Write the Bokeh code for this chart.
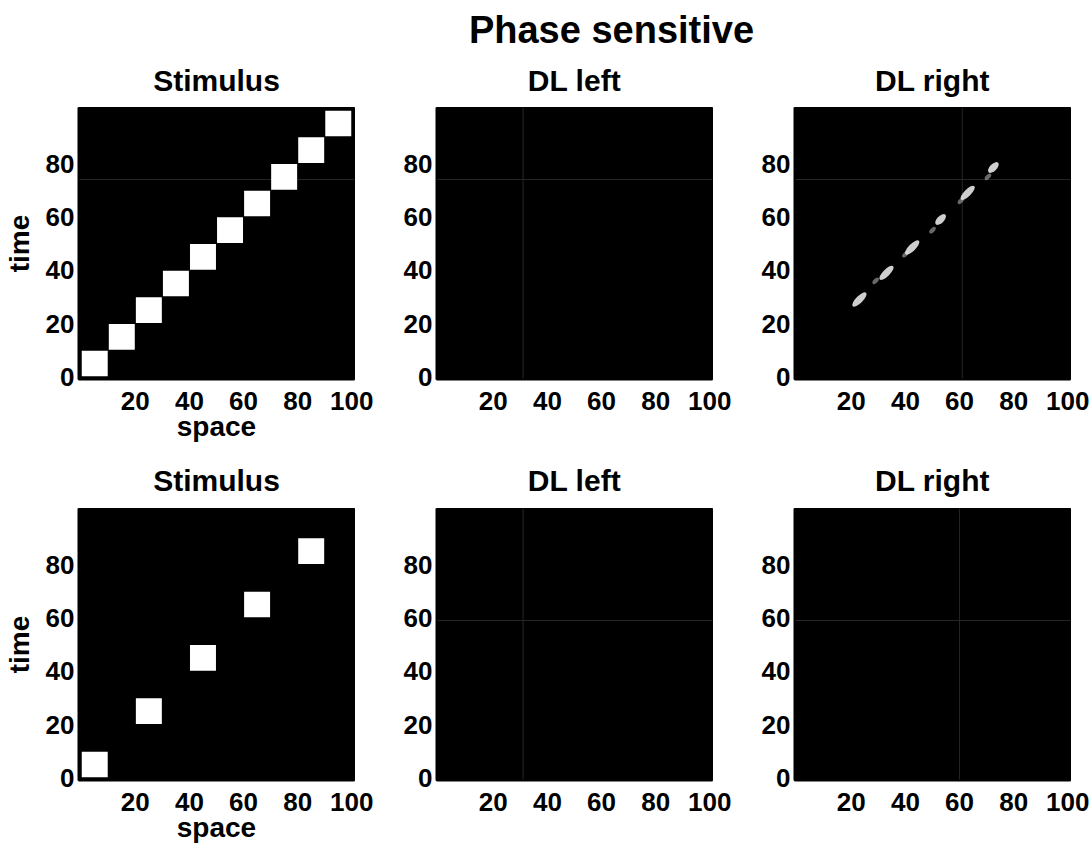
from bokeh.plotting import figure
from bokeh.layouts import column, row
from bokeh.models import Title, FixedTicker, Span, Range1d, Label
from bokeh.embed import file_html
from bokeh.resources import INLINE
import math

FONT = "Liberation Sans"

# ---------------- data ----------------
x_ticks = [20, 40, 60, 80, 100]
y_ticks = [0, 20, 40, 60, 80]

# stimulus squares (centres, in space/time units)
stim_top_x = [5, 15, 25, 35, 45, 55, 65, 75, 85, 95]
stim_top_y = [5, 15, 25, 35, 45, 55, 65, 75, 85, 95]
stim_bot_x = [5, 25, 45, 65, 85]
stim_bot_y = [5, 25, 45, 65, 85]
square_size = 9.6

# DL right (top row) response blobs
blob_x = [23, 33, 42.5, 53, 63, 72.5]
blob_y = [29, 39, 48.5, 59, 69, 78.5]
blob_len = [7, 7, 7, 5, 7, 5]
frag_x = [29, 40, 50, 60.5, 70.5]
frag_y = [36, 46, 55, 66, 75]
frag_len = [3, 3, 3, 3, 3]

# faint scan lines
top_stim_h = [74]
top_left_h = [74]
top_left_v = [31]
top_right_h = [74]
top_right_v = [61]
bot_left_h = [59]
bot_left_v = [31]
bot_right_h = [59]
bot_right_v = [60]

FW, FH = 276, 272
TOTAL_W = 1083


def make_panel(title, bl, br, bt, bb, title_standoff, xlabel=None, ylabel=None):
    p = figure(frame_width=FW, frame_height=FH,
               x_range=Range1d(-1, 101), y_range=Range1d(-1, 101),
               output_backend="svg", toolbar_location=None, tools="",
               title_location=None,
               min_border_left=bl, min_border_right=br,
               min_border_top=bt, min_border_bottom=bb,
               background_fill_color="black", border_fill_color="white",
               outline_line_color="black")
    p.add_layout(Title(text=title, align="center", text_font=FONT,
                       text_font_size="30px", text_font_style="bold",
                       text_color="black", standoff=title_standoff), "above")
    p.grid.visible = False
    p.xaxis.ticker = FixedTicker(ticks=x_ticks)
    p.yaxis.ticker = FixedTicker(ticks=y_ticks)
    for ax in p.xaxis + p.yaxis:
        ax.major_tick_in = 0
        ax.major_tick_out = 0
        ax.minor_tick_in = 0
        ax.minor_tick_out = 0
        ax.major_tick_line_color = None
        ax.minor_tick_line_color = None
        ax.axis_line_color = "black"
        ax.axis_line_width = 2
        ax.major_label_text_font = FONT
        ax.major_label_text_font_size = "26px"
        ax.major_label_text_font_style = "bold"
        ax.major_label_text_color = "black"
        ax.axis_label_text_font = FONT
        ax.axis_label_text_font_size = "28px"
        ax.axis_label_text_font_style = "bold"
        ax.axis_label_text_color = "black"
    p.xaxis.major_label_standoff = 12
    p.yaxis.major_label_standoff = 4
    if xlabel:
        p.xaxis.axis_label = xlabel
        p.xaxis.axis_label_standoff = -2
    if ylabel:
        p.yaxis.axis_label = ylabel
        p.yaxis.axis_label_standoff = 8
    return p


def faint(p, hs, vs):
    for h in hs:
        p.add_layout(Span(location=h, dimension="width", line_color="#262626",
                          line_width=1, level="underlay"))
    for v in vs:
        p.add_layout(Span(location=v, dimension="height", line_color="#262626",
                          line_width=1, level="underlay"))


# main title strip
TH = 50
tf = figure(width=TOTAL_W, height=TH, x_range=Range1d(0, TOTAL_W), y_range=Range1d(0, TH),
            min_border=0, output_backend="svg", toolbar_location=None, tools="",
            title_location=None,
            x_axis_location=None, y_axis_location=None, outline_line_color=None,
            background_fill_color="white", border_fill_color="white")
tf.grid.visible = False
tf.add_layout(Label(x=611, y=21, text="Phase sensitive", text_align="center",
                    text_baseline="alphabetic", text_font=FONT, text_font_size="38px",
                    text_font_style="bold", text_color="black"))

T1, B1, T2, B2 = 56, 70, 58, 54

f1 = make_panel("Stimulus", 69, 20, T1, B1, 22, xlabel="space", ylabel="time")
faint(f1, top_stim_h, [])
f1.rect(x=stim_top_x, y=stim_top_y, width=square_size, height=square_size,
        fill_color="white", line_color=None)

f2 = make_panel("DL left", 62, 20, T1, B1, 22)
faint(f2, top_left_h, top_left_v)

f3 = make_panel("DL right", 62, 22, T1, B1, 22)
faint(f3, top_right_h, top_right_v)
f3.ellipse(x=frag_x, y=frag_y, width=frag_len, height=1.6, angle=math.pi / 4,
           fill_color="#bdbdbd", fill_alpha=0.55, line_color=None)
f3.ellipse(x=blob_x, y=blob_y, width=blob_len, height=2.6, angle=math.pi / 4,
           fill_color="#e6e6e6", fill_alpha=0.9, line_color=None)

f4 = make_panel("Stimulus", 69, 20, T2, B2, 24, xlabel="space", ylabel="time")
f4.rect(x=stim_bot_x, y=stim_bot_y, width=square_size, height=square_size,
        fill_color="white", line_color=None)

f5 = make_panel("DL left", 62, 20, T2, B2, 24)
faint(f5, bot_left_h, bot_left_v)

f6 = make_panel("DL right", 62, 22, T2, B2, 24)
faint(f6, bot_right_h, bot_right_v)

layout = column(tf, row(f1, f2, f3, spacing=0), row(f4, f5, f6, spacing=0), spacing=0)

open("out.html", "w").write(file_html(layout, INLINE))
